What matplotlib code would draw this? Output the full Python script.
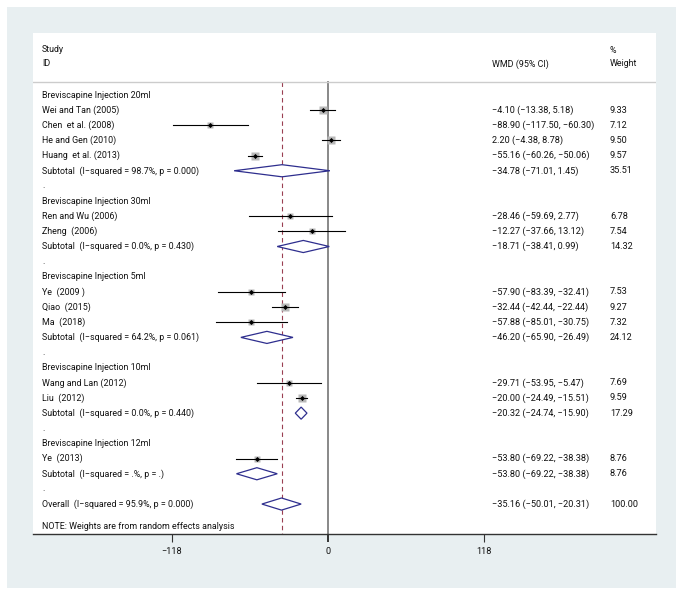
import matplotlib.pyplot as plt
from matplotlib.patches import Rectangle, Polygon
from matplotlib.transforms import blended_transform_factory
from matplotlib.font_manager import FontProperties

plt.rcParams['font.family'] = ['Roboto', 'DejaVu Sans']

# ---- data ----
group_labels = ["Breviscapine Injection 20ml", "Breviscapine Injection 30ml",
                "Breviscapine Injection 5ml", "Breviscapine Injection 10ml",
                "Breviscapine Injection 12ml"]
study_labels = ["Wei and Tan (2005)", "Chen  et al. (2008)", "He and Gen (2010)",
                "Huang  et al. (2013)", "Ren and Wu (2006)", "Zheng  (2006)",
                "Ye  (2009 )", "Qiao  (2015)", "Ma  (2018)",
                "Wang and Lan (2012)", "Liu  (2012)", "Ye  (2013)"]
study_group = [0, 0, 0, 0, 1, 1, 2, 2, 2, 3, 3, 4]
study_wmd = [-4.10, -88.90, 2.20, -55.16, -28.46, -12.27, -57.90, -32.44, -57.88, -29.71, -20.00, -53.80]
study_lo = [-13.38, -117.50, -4.38, -60.26, -59.69, -37.66, -83.39, -42.44, -85.01, -53.95, -24.49, -69.22]
study_hi = [5.18, -60.30, 8.78, -50.06, 2.77, 13.12, -32.41, -22.44, -30.75, -5.47, -15.51, -38.38]
study_weight = [9.33, 7.12, 9.50, 9.57, 6.78, 7.54, 7.53, 9.27, 7.32, 7.69, 9.59, 8.76]

sub_i2 = ["98.7%", "0.0%", "64.2%", "0.0%", ".%"]
sub_p = ["0.000", "0.430", "0.061", "0.440", "."]
sub_wmd = [-34.78, -18.71, -46.20, -20.32, -53.80]
sub_lo = [-71.01, -38.41, -65.90, -24.74, -69.22]
sub_hi = [1.45, 0.99, -26.49, -15.90, -38.38]
sub_weight = [35.51, 14.32, 24.12, 17.29, 8.76]

overall_i2 = "95.9%"
overall_p = "0.000"
overall_wmd, overall_lo, overall_hi, overall_weight = -35.16, -50.01, -20.31, 100.00

x_ticks = [-118, 0, 118]

note = "NOTE: Weights are from random effects analysis"


def fmt(v):
    return ("%.2f" % v).replace("-", "\u2212")


def ci_text(m, lo, hi):
    return "%s (%s, %s)" % (fmt(m), fmt(lo), fmt(hi))


def sub_text(name, i2, p):
    return "%s  (I\u2212squared = %s, p = %s)" % (name, i2, p)


# ---- figure ----
W, H = 683, 596
fig = plt.figure(figsize=(W / 100, H / 100), dpi=100)
fig.patch.set_facecolor("white")
fig.patches.append(Rectangle((7 / W, 1 - 588 / H), 669 / W, 581 / H,
                             transform=fig.transFigure, facecolor="#e8eff1",
                             edgecolor="none", zorder=-10))

left, right, top, bottom = 33, 656, 33, 534
ax = fig.add_axes([left / W, 1 - bottom / H, (right - left) / W, (bottom - top) / H])
ax.set_facecolor("white")

px_per_unit = 156 / 118.0
xmin = -(328 - left) / px_per_unit
xmax = xmin + (right - left) / px_per_unit
ax.set_xlim(xmin, xmax)

row0, row_h = 95, 15.15
ax.set_ylim((bottom - row0) / row_h, (top - row0) / row_h)

tr = blended_transform_factory(ax.transAxes, ax.transData)


def fx(px):
    return (px - left) / (right - left)


# pick font sizes so the text runs about as wide as in the picture
renderer = fig.canvas.get_renderer()


def fit_size(strings, width_px):
    prop = FontProperties(family=['Roboto', 'DejaVu Sans'], size=10)
    w = sum(renderer.get_text_width_height_descent(s, prop, ismath=False)[0]
            for s in strings)
    return 10 * width_px / w


fs = fit_size([group_labels[0], study_labels[0], note,
               sub_text("Subtotal", sub_i2[0], sub_p[0])], 99 + 79 + 197 + 163)
fs_num = fit_size([ci_text(study_wmd[1], study_lo[1], study_hi[1])], 102)

x_lab, x_ci, x_w = fx(42), fx(491.5), fx(610)
txt = dict(transform=tr, fontsize=fs, va="center", ha="left", color="#111111")
num = dict(txt, fontsize=fs_num)

# header
ax.text(x_lab, -3.02, "Study", **txt)
ax.text(x_lab, -2.05, "ID", **txt)
ax.text(x_ci, -2.05, "WMD (95% CI)", **txt)
ax.text(x_w, -2.95, "%", **txt)
ax.text(x_w, -2.05, "Weight", **txt)
header_line = -0.83
ax.axhline(header_line, color="#cccccc", lw=1.0)

diamond_col = "#2e2e8e"
half_h = 0.4


def diamond(m, lo, hi, r):
    ax.add_patch(Polygon([(lo, r), (m, r - half_h), (hi, r), (m, r + half_h)],
                         closed=True, facecolor="white", edgecolor=diamond_col,
                         lw=0.9, zorder=3))


row = 0
for g, gname in enumerate(group_labels):
    ax.text(x_lab, row, gname, **txt)
    row += 1
    for i in range(len(study_labels)):
        if study_group[i] != g:
            continue
        ax.plot([study_lo[i], study_hi[i]], [row, row], color="black", lw=0.8, zorder=3)
        side = 2.35 * study_weight[i] ** 0.5 * 0.72
        ax.plot(study_wmd[i], row, marker="s", ms=side, color="#b8b8b8",
                mec="none", zorder=2)
        ax.plot(study_wmd[i], row, marker="D", ms=2.6, color="black",
                mec="none", zorder=4)
        ax.text(x_lab, row, study_labels[i], **txt)
        ax.text(x_ci, row, ci_text(study_wmd[i], study_lo[i], study_hi[i]), **num)
        ax.text(x_w, row, "%.2f" % study_weight[i], **num)
        row += 1
    diamond(sub_wmd[g], sub_lo[g], sub_hi[g], row)
    ax.text(x_lab, row, sub_text("Subtotal", sub_i2[g], sub_p[g]), **txt)
    ax.text(x_ci, row, ci_text(sub_wmd[g], sub_lo[g], sub_hi[g]), **num)
    ax.text(x_w, row, "%.2f" % sub_weight[g], **num)
    row += 1
    ax.text(x_lab, row, ".", **txt)
    row += 1

diamond(overall_wmd, overall_lo, overall_hi, row)
ax.text(x_lab, row, sub_text("Overall", overall_i2, overall_p), **txt)
ax.text(x_ci, row, ci_text(overall_wmd, overall_lo, overall_hi), **num)
ax.text(x_w, row, "%.2f" % overall_weight, **num)
ax.text(x_lab, row + 1.5, note, **txt)

# reference lines
y_bot = ax.get_ylim()[0]
ax.plot([0, 0], [header_line, y_bot], color="#888888", lw=1.4, zorder=1)
ax.plot([overall_wmd, overall_wmd], [header_line, y_bot], color="#9a3f52",
        lw=0.8, dashes=(4, 3), zorder=1)

# axis
for s in ["top", "left", "right"]:
    ax.spines[s].set_visible(False)
ax.spines["bottom"].set_color("#333333")
ax.spines["bottom"].set_linewidth(1.0)
ax.set_yticks([])
ax.set_xticks(x_ticks)
ax.set_xticklabels([("%d" % t).replace("-", "\u2212") for t in x_ticks])
ax.tick_params(axis="x", direction="out", length=6, width=0.8, color="#333333",
               labelsize=fs_num, pad=3, labelcolor="#111111")
ax.get_xticklines()[2].set_color("#888888")
ax.get_xticklines()[2].set_markeredgewidth(1.4)

fig.savefig("out.png", dpi=100, facecolor=fig.get_facecolor())
